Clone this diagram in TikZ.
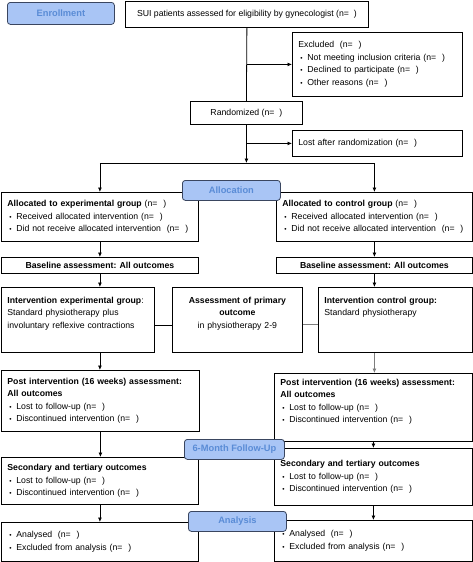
\documentclass[tikz,border=0pt]{standalone}
\usepackage{fontspec}
\setmainfont{Liberation Sans}
\usepackage{tikz}
\usetikzlibrary{arrows.meta, positioning}
\definecolor{stagefill}{RGB}{169, 197, 245}
\definecolor{stageedge}{RGB}{58, 70, 96}
\definecolor{stagetext}{RGB}{90, 140, 214}
\definecolor{linegray}{RGB}{125, 125, 125}
\newcommand{\bul}{\hspace*{2pt}\makebox[7pt][l]{\fontsize{6.5}{6}\selectfont\textbullet}}

\begin{document}
\begin{tikzpicture}[x=1pt, y=-1pt,
  every node/.style={font=\fontsize{8.7}{12.5}\selectfont},
  box/.style={draw, line width=0.8pt, anchor=north west, inner xsep=6pt, inner ysep=3pt},
  cbox/.style 2 args={box, minimum width=#1, minimum height=#2, inner sep=0pt},
  listbox/.style 2 args={box, minimum width=#1, text width=#1-12pt, minimum height=#2, align=left},
  topbox/.style 2 args={text height=#1, text depth=#2},
  stage/.style 2 args={draw=stageedge, fill=stagefill, line width=0.8pt, rounded corners=3pt,
    text=stagetext, font=\bfseries\fontsize{9.3}{11}\selectfont, anchor=north west,
    minimum width=#1, minimum height=#2, inner sep=0pt},
  line/.style={line width=0.8pt},
  arr/.style={line, -{Latex[length=4.5pt, width=4pt]}}]

\useasboundingbox (0,0) rectangle (473,562);

% Enrollment
\node[cbox={243pt}{26pt}] (sui) at (125,1) {SUI patients assessed for eligibility by gynecologist (n=~~)};
\node[listbox={170pt}{64pt}] (excl) at (292,32) {%
  Excluded~~(n=~~)\\
  \bul Not meeting inclusion criteria (n=~~)\\
  \bul Declined to participate (n=~~)\\
  \bul Other reasons (n=~~)};
\node[cbox={112pt}{23pt}] (rand) at (190,101) {Randomized (n=~~)};
\node[listbox={170pt}{26pt}] (lost) at (292,130) {Lost after randomization (n=~~)};

% Allocation
\node[listbox={197pt}{49pt}] (allocE) at (1,192) {%
  \textbf{Allocated to experimental group} (n=~~)\\
  \bul Received allocated intervention (n=~~)\\
  \bul Did not receive allocated intervention~~(n=~~)};
\node[listbox={196pt}{49pt}] (allocC) at (276,192) {%
  \textbf{Allocated to control group} (n=~~)\\
  \bul Received allocated intervention (n=~~)\\
  \bul Did not receive allocated intervention~~(n=~~)};

\node[cbox={197pt}{16pt}] (baseE) at (1,257) {\textbf{Baseline assessment: All outcomes}};
\node[cbox={196pt}{16pt}] (baseC) at (276,257) {\textbf{Baseline assessment: All outcomes}};

\node[listbox={153pt}{65pt}, topbox={13pt}{46pt}] (intE) at (1,287) {%
  \textbf{Intervention experimental group}:\\
  Standard physiotherapy plus\\
  involuntary reflexive contractions};
\node[listbox={130pt}{65pt}, topbox={13pt}{46pt}, align=center] (assess) at (172,287) {%
  \textbf{Assessment of primary}\\
  \textbf{outcome}\\
  in physiotherapy 2-9};
\node[listbox={154pt}{65pt}, topbox={13pt}{46pt}] (intC) at (318,287) {%
  \textbf{Intervention control group:}\\
  Standard physiotherapy};

% Follow-up
\node[listbox={198pt}{61pt}] (postE) at (1,370) {%
  \textbf{Post intervention (16 weeks) assessment:}\\
  \textbf{All outcomes}\\
  \bul Lost to follow-up (n=~~)\\
  \bul Discontinued intervention (n=~~)};
\node[listbox={198pt}{68pt}, topbox={9pt}{53pt}] (postC) at (274,373) {%
  \textbf{Post intervention (16 weeks) assessment:}\\
  \textbf{All outcomes}\\
  \bul Lost to follow-up (n=~~)\\
  \bul Discontinued intervention (n=~~)};

\node[listbox={197pt}{47pt}] (secE) at (1,457) {%
  \textbf{Secondary and tertiary outcomes}\\
  \bul Lost to follow-up (n=~~)\\
  \bul Discontinued intervention (n=~~)};
\node[listbox={198pt}{57pt}] (secC) at (274,448) {%
  \textbf{Secondary and tertiary outcomes}\\
  \bul Lost to follow-up (n=~~)\\
  \bul Discontinued intervention (n=~~)};

% Analysis
\node[listbox={197pt}{39pt}] (anE) at (1,522) {%
  \bul Analysed~~(n=~~)\\
  \bul Excluded from analysis (n=~~)};
\node[listbox={198pt}{41pt}] (anC) at (274,520) {%
  \bul Analysed~~(n=~~)\\
  \bul Excluded from analysis (n=~~)};

% connectors
\coordinate (exclfork) at (sui.south |- excl.west);
\coordinate (lostfork) at (rand.south |- lost.west);
\coordinate (split) at (rand.south |- 0,163);

\draw[line] (sui.south) -- (rand.north);
\draw[arr] (exclfork) -- (excl.west);
\draw[arr] (rand.south) -- (split);
\draw[arr] (lostfork) -- (lost.west);
\draw[line] (allocE.north |- split) -- (allocC.north |- split);
\draw[arr] (allocE.north |- split) -- (allocE.north);
\draw[arr] (allocC.north |- split) -- (allocC.north);

\draw[arr] (allocE) -- (baseE);
\draw[arr] (baseE.south) -- (baseE.south |- intE.north);
\draw[arr] (baseE.south |- intE.south) -- (baseE.south |- postE.north);
\draw[arr] (postE.south) -- (postE.south |- secE.north);
\draw[arr] (secE) -- (anE);

\draw[line] ([yshift=-5pt]intE.east) -- ([yshift=-5pt]intE.east -| assess.west);
\draw[line, linegray] ([yshift=-4pt]assess.east) -- ([yshift=-4pt]assess.east -| intC.west);

\draw[arr] (allocC) -- (baseC);
\draw[arr] (baseC.south) -- (baseC.south |- intC.north);
\draw[arr, linegray] (baseC.south |- intC.south) -- (baseC.south |- postC.north);
\draw[arr] (postC) -- (secC);
\draw[arr] (secC) -- (anC);

% stage labels on top
\node[stage={107pt}{22pt}] (enrol) at (7,2) {Enrollment};
\node[stage={98pt}{20pt}] (alloc) at (182,180) {Allocation};
\node[stage={100pt}{20pt}] (fu) at (184,439) {6-Month Follow-Up};
\node[stage={98pt}{20pt}] (anl) at (188,511) {Analysis};

\end{tikzpicture}
\end{document}
